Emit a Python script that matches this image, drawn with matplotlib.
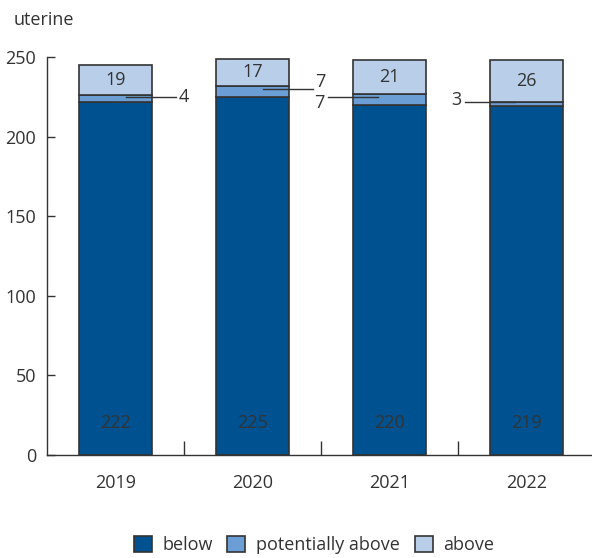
import matplotlib.pyplot as plt
import numpy as np
from matplotlib.patches import Patch

plt.rcParams['font.family'] = ['Open Sans', 'DejaVu Sans']

years = ['2019', '2020', '2021', '2022']
below = [222, 225, 220, 219]
potentially = [4, 7, 7, 3]
above = [19, 17, 21, 26]

c_below = '#00518f'
c_pot = '#6a9ed4'
c_above = '#b9cfe9'
edge = '#333333'
txt = '#333333'

fig = plt.figure(figsize=(5.92, 5.58), dpi=100)
ax = fig.add_axes([47/592, 103/558, 545/592, 398/558])

x = np.arange(len(years))
w = 0.53
below = np.array(below)
potentially = np.array(potentially)
above = np.array(above)

ax.bar(x, below, w, color=c_below, edgecolor=edge, linewidth=1.2, zorder=2)
ax.bar(x, potentially, w, bottom=below, color=c_pot, edgecolor=edge, linewidth=1.2, zorder=2)
ax.bar(x, above, w, bottom=below + potentially, color=c_above, edgecolor=edge, linewidth=1.2, zorder=2)

fs = 13
for i in range(len(years)):
    ax.text(x[i], 20, str(below[i]), ha='center', va='center', fontsize=fs, color=txt, zorder=3)
    ax.text(x[i], below[i] + potentially[i] + above[i] / 2, str(above[i]),
            ha='center', va='center', fontsize=fs, color=txt, zorder=3)

# leader lines for the small middle segment: (side, line y offset, text y offset)
leaders = [(1, 1, 0), (1, 1.5, 4.5), (-1, 1.5, -4), (-1, 1.2, 1.2)]
for i, (side, dy, ty) in enumerate(leaders):
    ym = below[i] + potentially[i] / 2 + dy
    if side > 0:
        ax.plot([x[i] + 0.08, x[i] + 0.44], [ym, ym], color=txt, lw=1, zorder=3)
        ax.text(x[i] + 0.46, ym + ty, str(potentially[i]), ha='left', va='center',
                fontsize=fs, color=txt)
    else:
        ax.plot([x[i] - 0.45, x[i] - 0.08], [ym, ym], color=txt, lw=1, zorder=3)
        ax.text(x[i] - 0.47, ym + ty, str(potentially[i]), ha='right', va='center',
                fontsize=fs, color=txt)

ax.set_xlim(-0.5, 3.48)
ax.set_ylim(0, 250)
ax.set_yticks([0, 50, 100, 150, 200, 250])
ax.set_xticks(x)
ax.set_xticklabels(years)
ax.set_xticks([0.5, 1.5, 2.5], minor=True)
ax.tick_params(axis='x', which='major', length=0, pad=14, labelsize=fs, colors=txt)
ax.tick_params(axis='x', which='minor', direction='in', length=10, width=1, color=txt)
ax.tick_params(axis='y', direction='in', length=6, width=1, pad=8, labelsize=fs,
               colors=txt)
for s in ['top', 'right']:
    ax.spines[s].set_visible(False)
for s in ['left', 'bottom']:
    ax.spines[s].set_color(txt)
    ax.spines[s].set_linewidth(1)

fig.text(14/592, 1 - 20/558, 'uterine', ha='left', va='center', fontsize=fs, color=txt)

handles = [Patch(facecolor=c, edgecolor=edge, linewidth=1.2) for c in (c_below, c_pot, c_above)]
fig.legend(handles, ['below', 'potentially above', 'above'], loc='center',
           bbox_to_anchor=(314/592, 1 - 545/558), ncol=3, frameon=False, fontsize=fs,
           handlelength=1.0, handleheight=1.0, handletextpad=0.6, columnspacing=0.8,
           labelcolor=txt)

fig.savefig('out.png', dpi=100)
